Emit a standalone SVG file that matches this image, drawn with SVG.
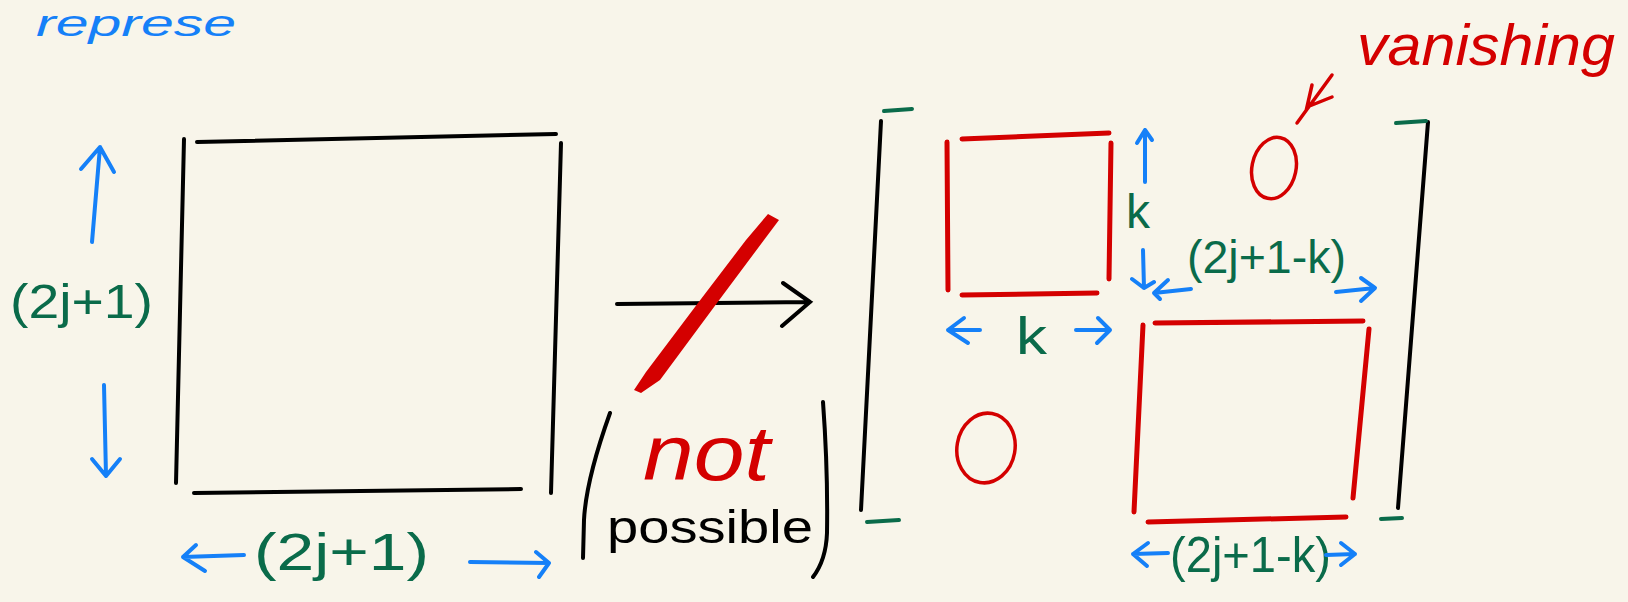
<svg xmlns="http://www.w3.org/2000/svg" width="1628" height="602" viewBox="0 0 1628 602">
<style>
.bk{stroke:#000;stroke-width:4;fill:none;stroke-linecap:round}
.rd{stroke:#D40000;stroke-width:5;fill:none;stroke-linecap:round}
.rdt{stroke:#D40000;stroke-width:3.5;fill:none;stroke-linecap:round}
.bl{stroke:#1580F8;stroke-width:4;fill:none;stroke-linecap:round;stroke-linejoin:round}
.gr{stroke:#0A6B4A;stroke-width:4;fill:none;stroke-linecap:round}
.tg{font-family:"Liberation Sans",Arial,sans-serif;fill:#0A6B4A}
.tr{font-family:"Liberation Sans",Arial,sans-serif;fill:#D40000;font-style:italic}
.tk{font-family:"Liberation Sans",Arial,sans-serif;fill:#000}
.tb{font-family:"Liberation Sans",Arial,sans-serif;fill:#1580F8;font-style:italic}
</style>
<rect width="1628" height="602" fill="#F8F5EA"/>

<g id="title">
<text class="tb" x="36" y="36" font-size="36" textLength="200" lengthAdjust="spacingAndGlyphs">represe</text>
</g>

<g id="left-square">
<path class="bk" d="M184,139 L176,483"/>
<path class="bk" d="M197,142 L556,134"/>
<path class="bk" d="M561,143 L551,493"/>
<path class="bk" d="M194,493 L521,489"/>
</g>

<g id="left-height-label">
<path class="bl" d="M92,242 L100,147 M81,169 L100,147 L114,172"/>
<path class="bl" d="M104,385 L106,476 M92,459 L106,476 L120,459"/>
<text class="tg" x="10" y="318" font-size="48" textLength="143" lengthAdjust="spacingAndGlyphs">(2j+1)</text>
</g>

<g id="left-width-label">
<path class="bl" d="M244,555 L183,557 M196,545 L183,557 L205,571"/>
<text class="tg" x="254" y="570" font-size="52" textLength="175" lengthAdjust="spacingAndGlyphs">(2j+1)</text>
<path class="bl" d="M470,562 L549,563 M536,552 L549,563 L539,577"/>
</g>

<g id="connectors">
<path class="bk" d="M617,304 L810,302 M783,283 L810,302 L782,326"/>
<path fill="#D40000" d="M634,390 L646,372 L698,303 L746,240 L768,214 L779,220 L764,240 L717,303 L660,380 L641,393 Z"/>
<path class="rdt" d="M1332,75 L1297,123 M1312,85 L1307,107 L1332,97"/>
</g>

<g id="not-possible">
<path class="bk" d="M610,413 Q586,480 584,520 L583,558"/>
<path class="bk" d="M823,402 Q828,470 827,533 Q826,560 813,577"/>
<text class="tr" x="643" y="480" font-size="78" textLength="127" lengthAdjust="spacingAndGlyphs">not</text>
<text class="tk" x="607" y="543" font-size="46" textLength="206" lengthAdjust="spacingAndGlyphs">possible</text>
</g>

<g id="matrix-brackets">
<path class="bk" d="M881,121 L861,510"/>
<path class="gr" d="M884,111 L912,109"/>
<path class="gr" d="M867,522 L899,520"/>
<path class="bk" d="M1428,122 L1398,508"/>
<path class="gr" d="M1396,123 L1426,121"/>
<path class="gr" d="M1381,519 L1402,518"/>
</g>

<g id="small-block">
<path class="rd" d="M947,142 L948,290"/>
<path class="rd" d="M962,139 L1109,133"/>
<path class="rd" d="M1111,143 L1109,279"/>
<path class="rd" d="M962,295 L1097,293"/>
<path class="bl" d="M1145,182 L1145,130 M1137,143 L1145,130 L1152,140"/>
<text class="tg" x="1126" y="228" font-size="48">k</text>
<path class="bl" d="M1143,250 L1144,288 M1132,279 L1144,288 L1154,282"/>
<path class="bl" d="M980,330 L948,330 M964,318 L948,330 L968,343"/>
<text class="tg" x="1016" y="354" font-size="52" textLength="31" lengthAdjust="spacingAndGlyphs">k</text>
<path class="bl" d="M1076,330 L1110,330 M1098,318 L1110,330 L1097,343"/>
</g>

<g id="zero-upper">
<ellipse cx="1274" cy="168" rx="22" ry="31" transform="rotate(12 1274 168)" fill="none" stroke="#D40000" stroke-width="3.5"/>
<text class="tr" x="1357" y="65" font-size="58" textLength="258" lengthAdjust="spacingAndGlyphs">vanishing</text>
</g>

<g id="upper-width-label">
<path class="bl" d="M1191,289 L1154,293 M1168,280 L1154,293 L1160,299"/>
<text class="tg" x="1187" y="273" font-size="46" textLength="159" lengthAdjust="spacingAndGlyphs">(2j+1-k)</text>
<path class="bl" d="M1336,292 L1375,288 M1361,278 L1375,288 L1361,301"/>
</g>

<g id="zero-lower">
<ellipse cx="986" cy="448" rx="29" ry="35" transform="rotate(10 986 448)" fill="none" stroke="#D40000" stroke-width="3.5"/>
</g>

<g id="large-block">
<path class="rd" d="M1143,325 L1134,512"/>
<path class="rd" d="M1155,323 L1363,321"/>
<path class="rd" d="M1369,329 L1353,498"/>
<path class="rd" d="M1148,522 L1346,517"/>
</g>

<g id="lower-width-label">
<path class="bl" d="M1168,553 L1133,554 M1148,543 L1133,554 L1147,566"/>
<text class="tg" x="1170" y="572" font-size="50" textLength="161" lengthAdjust="spacingAndGlyphs">(2j+1-k)</text>
<path class="bl" d="M1326,555 L1355,554 M1341,543 L1355,554 L1341,565"/>
</g>
</svg>
